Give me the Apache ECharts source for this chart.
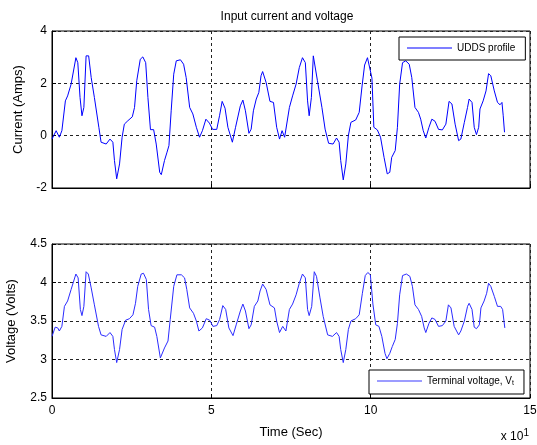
<!DOCTYPE html>
<html>
<head>
<meta charset="utf-8">
<script src="https://cdn.jsdelivr.net/npm/echarts@6/dist/echarts.min.js"></script>
<style>
  html, body { margin: 0; padding: 0; background: #fff; }
  #chart { width: 537px; height: 445px; }
</style>
</head>
<body>
<div id="chart"></div>
<script>
// time axis ticks (shown as "x 10^1")
const timeTicks = [0, 5, 10, 15]

// [time, current]
const currentData = [
  [0, -0.13], [0.13, 0.19], [0.23, -0.06], [0.31, 0.19], [0.42, 1.33], [0.49, 1.52], [0.6, 1.97],
  [0.75, 2.98], [0.81, 2.79], [0.88, 1.46], [0.94, 0.76], [1.0, 1.08], [1.07, 3.05], [1.15, 3.05],
  [1.23, 2.22], [1.33, 1.46], [1.47, 0.32], [1.54, -0.25], [1.7, -0.32], [1.82, -0.13], [1.91, -0.25],
  [1.96, -0.95], [2.03, -1.65], [2.12, -1.08], [2.2, -0.06], [2.27, 0.44], [2.38, 0.57], [2.52, 0.72],
  [2.59, 1.08], [2.66, 2.1], [2.77, 2.92], [2.85, 3.01], [2.94, 2.79], [3.01, 1.46], [3.09, 0.23],
  [3.19, 0.23], [3.27, -0.32], [3.38, -1.4], [3.43, -1.49], [3.53, -0.95], [3.61, -0.63], [3.67, -0.38],
  [3.74, 0.95], [3.82, 2.35], [3.9, 2.86], [4.03, 2.9], [4.13, 2.73], [4.21, 2.22], [4.32, 1.08],
  [4.42, 0.83], [4.53, 0.32], [4.63, -0.06], [4.72, 0.19], [4.83, 0.63], [4.94, 0.48], [5.04, 0.24],
  [5.17, 0.24], [5.26, 0.78], [5.34, 1.31], [5.43, 1.05], [5.52, 0.32], [5.66, -0.25], [5.76, 0.32],
  [5.91, 1.14], [5.99, 1.36], [6.07, 0.95], [6.18, 0.09], [6.25, 0.25], [6.32, 0.95], [6.41, 1.4],
  [6.49, 1.65], [6.56, 2.29], [6.61, 2.45], [6.72, 2.03], [6.84, 1.31], [6.95, 1.27], [7.05, 0.32],
  [7.14, -0.13], [7.22, 0.19], [7.3, -0.06], [7.36, 0], [7.45, 1.08], [7.55, 1.52], [7.66, 1.97],
  [7.76, 2.6], [7.86, 2.98], [7.95, 2.79], [8.02, 1.33], [8.07, 0.76], [8.14, 1.46], [8.2, 3.05],
  [8.26, 2.98], [8.33, 2.1], [8.47, 1.08], [8.57, 0.25], [8.68, -0.29], [8.82, -0.32], [8.93, -0.09],
  [9.01, -0.25], [9.06, -0.95], [9.14, -1.69], [9.22, -1.08], [9.3, 0], [9.38, 0.51], [9.53, 0.6],
  [9.64, 0.89], [9.73, 1.9], [9.81, 2.7], [9.9, 2.98], [9.96, 2.95], [10.04, 2.2], [10.1, 0.32],
  [10.21, 0.22], [10.31, -0.06], [10.42, -0.83], [10.52, -1.46], [10.6, -1.4], [10.66, -0.83],
  [10.77, -0.57], [10.84, 0.32], [10.91, 1.97], [11.0, 2.79], [11.1, 2.86], [11.21, 2.73], [11.29, 2.22],
  [11.39, 1.08], [11.5, 0.89], [11.57, 0.63], [11.65, 0.19], [11.73, -0.09], [11.83, 0.32], [11.92, 0.63],
  [12.02, 0.55], [12.13, 0.24], [12.25, 0.22], [12.36, 0.44], [12.46, 1.31], [12.55, 1.21], [12.65, 0.44],
  [12.76, -0.19], [12.83, -0.13], [12.94, 0.51], [13.04, 1.08], [13.09, 1.4], [13.18, 1.27], [13.25, 0.32],
  [13.32, 0.04], [13.39, 0.32], [13.43, 1.02], [13.53, 1.33], [13.62, 1.71], [13.7, 2.37], [13.77, 2.29],
  [13.88, 1.71], [13.98, 1.27], [14.06, 1.18], [14.12, 1.27], [14.16, 0.76], [14.2, 0.13]
]

// [time, terminal voltage]
const voltageData = [
  [0, 3.30], [0.1, 3.42], [0.18, 3.41], [0.23, 3.37], [0.31, 3.43], [0.39, 3.69], [0.49, 3.76],
  [0.6, 3.91], [0.75, 4.11], [0.82, 4.06], [0.89, 3.65], [0.94, 3.57], [1.0, 3.69], [1.07, 4.14],
  [1.14, 4.11], [1.23, 3.93], [1.33, 3.71], [1.46, 3.43], [1.54, 3.32], [1.7, 3.30], [1.82, 3.35],
  [1.91, 3.30], [1.96, 3.13], [2.03, 2.96], [2.12, 3.13], [2.2, 3.39], [2.31, 3.51], [2.43, 3.53],
  [2.54, 3.58], [2.62, 3.73], [2.69, 3.95], [2.8, 4.11], [2.87, 4.12], [2.96, 4.04], [3.03, 3.65],
  [3.11, 3.44], [3.22, 3.42], [3.29, 3.30], [3.4, 3.02], [3.53, 3.15], [3.64, 3.24], [3.71, 3.52],
  [3.82, 3.95], [3.92, 4.10], [4.06, 4.10], [4.16, 4.06], [4.23, 3.91], [4.32, 3.67], [4.44, 3.60],
  [4.53, 3.50], [4.61, 3.37], [4.72, 3.41], [4.84, 3.53], [4.95, 3.51], [5.05, 3.43], [5.17, 3.44],
  [5.26, 3.52], [5.36, 3.70], [5.45, 3.65], [5.55, 3.41], [5.68, 3.31], [5.78, 3.45], [5.91, 3.63],
  [5.99, 3.72], [6.07, 3.63], [6.18, 3.40], [6.25, 3.45], [6.35, 3.69], [6.46, 3.76], [6.53, 3.89],
  [6.61, 3.98], [6.72, 3.91], [6.84, 3.71], [6.98, 3.67], [7.05, 3.50], [7.14, 3.35], [7.24, 3.43],
  [7.34, 3.37], [7.45, 3.65], [7.55, 3.72], [7.66, 3.84], [7.76, 3.99], [7.86, 4.11], [7.95, 4.06],
  [8.02, 3.65], [8.07, 3.57], [8.15, 3.69], [8.23, 4.14], [8.3, 4.08], [8.41, 3.80], [8.51, 3.56],
  [8.65, 3.32], [8.8, 3.30], [8.93, 3.35], [9.01, 3.30], [9.06, 3.13], [9.14, 2.96], [9.22, 3.13],
  [9.3, 3.39], [9.38, 3.50], [9.53, 3.53], [9.64, 3.58], [9.74, 3.86], [9.83, 4.09], [9.91, 4.13],
  [9.99, 4.10], [10.07, 3.72], [10.16, 3.45], [10.26, 3.43], [10.35, 3.30], [10.45, 3.08], [10.51, 3.01],
  [10.6, 3.08], [10.68, 3.17], [10.77, 3.26], [10.84, 3.47], [10.91, 3.84], [11.0, 4.09], [11.12, 4.11],
  [11.23, 4.08], [11.31, 3.95], [11.39, 3.71], [11.5, 3.65], [11.6, 3.56], [11.68, 3.41], [11.73, 3.35],
  [11.83, 3.47], [11.92, 3.54], [12.02, 3.52], [12.13, 3.43], [12.25, 3.44], [12.36, 3.50], [12.44, 3.71],
  [12.52, 3.67], [12.62, 3.43], [12.76, 3.32], [12.83, 3.37], [12.94, 3.50], [13.04, 3.69], [13.09, 3.73],
  [13.18, 3.65], [13.25, 3.42], [13.32, 3.40], [13.41, 3.45], [13.46, 3.67], [13.56, 3.76], [13.64, 3.86],
  [13.7, 3.99], [13.77, 3.95], [13.88, 3.82], [13.98, 3.69], [14.08, 3.69], [14.14, 3.65], [14.21, 3.41]
]

const FONT = 'Liberation Sans, Arial, sans-serif'

const chart = echarts.init(document.getElementById('chart'), null, { renderer: 'canvas' })

function split() {
  return { show: true, lineStyle: { color: '#222', type: [3, 3], width: 1 } }
}
function xAx(grid, labels) {
  return {
    type: 'value', gridIndex: grid,
    min: timeTicks[0], max: timeTicks[timeTicks.length - 1], interval: 5,
    axisLine: { show: true, onZero: false, lineStyle: { color: '#000' } },
    axisTick: { show: true, inside: true, length: 4, lineStyle: { color: '#000' } },
    axisLabel: { show: labels, color: '#000', fontSize: 12, fontFamily: FONT, margin: 7 },
    splitLine: split(),
    name: labels ? 'Time (Sec)' : '', nameLocation: 'middle', nameGap: 28,
    nameTextStyle: { color: '#000', fontSize: 13, fontFamily: FONT }
  }
}
function yAx(grid, min, max, step, name, gap) {
  return {
    type: 'value', gridIndex: grid, min: min, max: max, interval: step,
    axisLine: { show: true, lineStyle: { color: '#000' } },
    axisTick: { show: true, inside: true, length: 4, lineStyle: { color: '#000' } },
    axisLabel: { color: '#000', fontSize: 12, fontFamily: FONT, margin: 5 },
    splitLine: split(),
    name: name, nameLocation: 'middle', nameGap: gap,
    nameTextStyle: { color: '#000', fontSize: 13, fontFamily: FONT }
  }
}
function legendBox(name, left, top, color, fmt) {
  return {
    data: [{ name: name, icon: 'rect', itemStyle: { color: color } }],
    left: left, top: top, orient: 'vertical',
    backgroundColor: '#fff', borderColor: '#000', borderWidth: 1,
    padding: [6, 10, 7, 8], itemWidth: 45, itemHeight: 1, itemGap: 0,
    selectedMode: false,
    formatter: fmt,
    textStyle: {
      color: '#000', fontSize: 10, fontFamily: FONT, padding: [0, 0, 0, 0],
      rich: { sub: { fontSize: 7, fontFamily: FONT, color: '#000', verticalAlign: 'bottom', padding: [5, 0, 0, 0] } }
    }
  }
}

chart.setOption({
  backgroundColor: '#fff',
  animation: false,
  title: {
    text: 'Input current and voltage', left: 282, top: 6, textAlign: 'center',
    textStyle: { color: '#000', fontSize: 12, fontWeight: 'normal', fontFamily: FONT }
  },
  grid: [
    { left: 52, right: 7, top: 31, height: 157, show: true, borderColor: '#000', borderWidth: 1, outerBoundsMode: 'none' },
    { left: 52, right: 7, top: 244, height: 154, show: true, borderColor: '#000', borderWidth: 1, outerBoundsMode: 'none' }
  ],
  legend: [
    legendBox('UDDS profile', 399, 37, '#0000ff', '{name}'),
    legendBox('Terminal voltage, V', 369, 370, '#3b3bff', function (n) { return n + '{sub|t}' })
  ],
  xAxis: [xAx(0, false), xAx(1, true)],
  yAxis: [
    yAx(0, -2, 4, 2, 'Current (Amps)', 27),
    yAx(1, 2.5, 4.5, 0.5, 'Voltage (Volts)', 34)
  ],
  series: [
    {
      name: 'UDDS profile', type: 'line', xAxisIndex: 0, yAxisIndex: 0,
      data: currentData, symbol: 'none', lineStyle: { color: '#0000ff', width: 1 },
      itemStyle: { color: '#0000ff' }
    },
    {
      name: 'Terminal voltage, V', type: 'line', xAxisIndex: 1, yAxisIndex: 1,
      data: voltageData, symbol: 'none', lineStyle: { color: '#2b2bff', width: 1 },
      itemStyle: { color: '#2b2bff' }
    }
  ],
  graphic: [{
    type: 'text', right: 8, top: 428,
    style: {
      text: 'x 10{sup|1}', fill: '#000', fontSize: 12, fontFamily: FONT,
      rich: { sup: { fontSize: 10, fontFamily: FONT, fill: '#000', verticalAlign: 'top', padding: [0, 0, 8, 0] } }
    }
  }]
})
</script>
</body>
</html>
